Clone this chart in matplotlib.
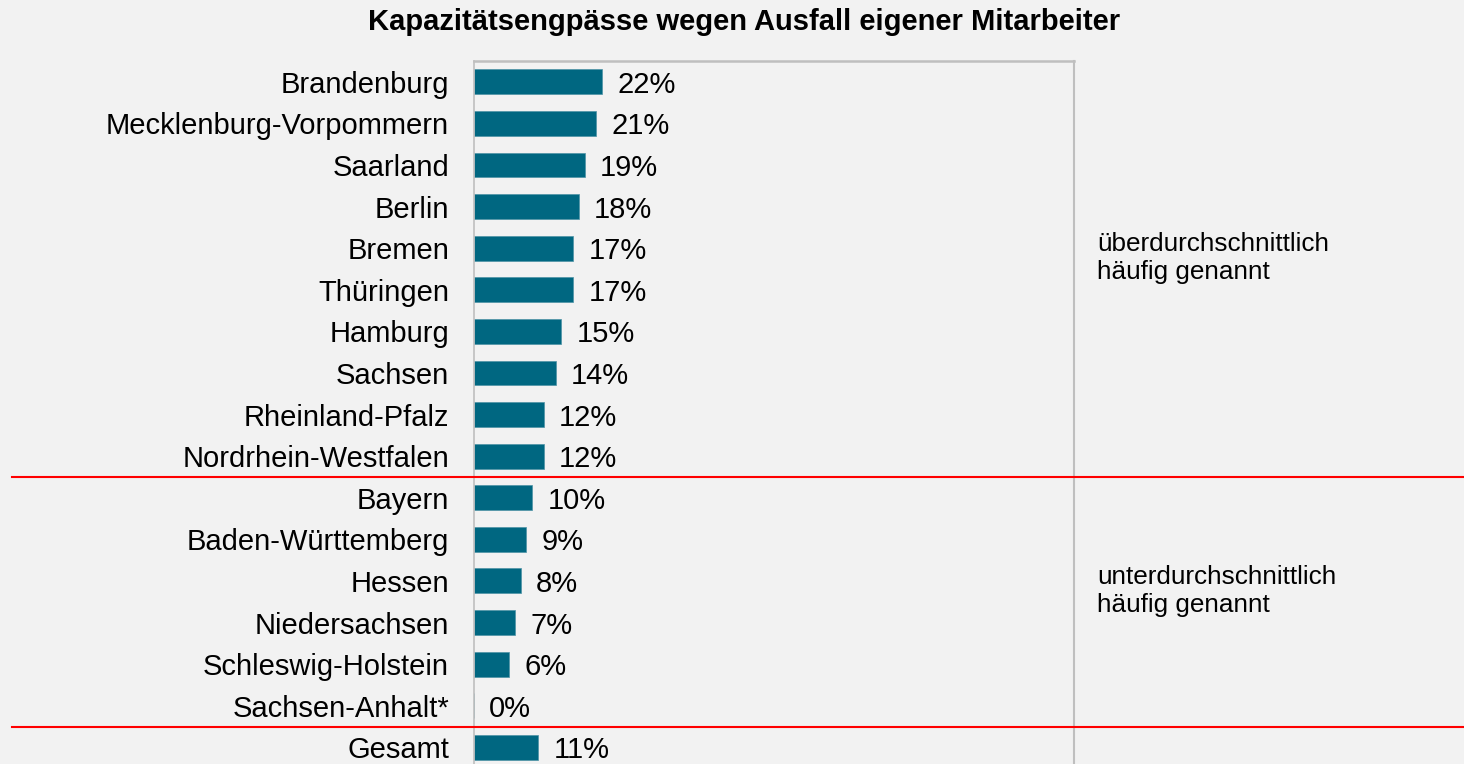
import numpy as np
import matplotlib.pyplot as plt
import matplotlib.transforms as mtransforms
from matplotlib.lines import Line2D

plt.rcParams['font.family'] = ['Liberation Sans', 'DejaVu Sans']

laender = ['Brandenburg', 'Mecklenburg-Vorpommern', 'Saarland', 'Berlin', 'Bremen',
           'Thüringen', 'Hamburg', 'Sachsen', 'Rheinland-Pfalz', 'Nordrhein-Westfalen',
           'Bayern', 'Baden-Württemberg', 'Hessen', 'Niedersachsen', 'Schleswig-Holstein',
           'Sachsen-Anhalt*', 'Gesamt']
anteile = [22, 21, 19, 18, 17, 17, 15, 14, 12, 12, 10, 9, 8, 7, 6, 0, 11]
grenzen = [9.5, 15.5]  # zwischen ueber-/unterdurchschnittlich und Gesamt

bg = '#f2f2f2'
bar_color = '#006781'
rahmen = '#bfbfbf'

fig = plt.figure(figsize=(14.64, 7.64), dpi=100, facecolor=bg)
ax = fig.add_axes([474 / 1464, 0.0, 600 / 1464, 1 - 61 / 764])
ax.set_facecolor(bg)

y = np.arange(len(laender))
ax.barh(y, anteile, height=0.6, color=bar_color, edgecolor='#4d93a6', linewidth=0.5)
for yi, v in zip(y, anteile):
    ax.annotate(f'{v}%', (v, yi), xytext=(11, 0), textcoords='offset points',
                va='center_baseline', ha='left', fontsize=21)

ax.set_xlim(0, 103)
ax.set_ylim(16.4, -0.5)
ax.set_yticks(y)
ax.set_yticklabels(laender, fontsize=21, va='center_baseline')
ax.tick_params(axis='y', length=0, pad=18)
ax.set_xticks([])
ax.spines['bottom'].set_visible(False)
for s in ['left', 'right', 'top']:
    ax.spines[s].set_color(rahmen)
ax.spines['left'].set_linewidth(1.2)
ax.spines['right'].set_linewidth(1.5)
ax.spines['top'].set_linewidth(1.8)

# rote Trennlinien ueber die ganze Breite
trans = mtransforms.blended_transform_factory(fig.transFigure, ax.transData)
for g in grenzen:
    fig.add_artist(Line2D([0.008, 1.0], [g, g], transform=trans, color='red',
                          linewidth=1.5, clip_on=False))

fig.text(0.508, 1 - 22 / 764, 'Kapazitätsengpässe wegen Ausfall eigener Mitarbeiter',
         ha='center', va='center', fontsize=21, fontweight='bold')
fig.text(1097 / 1464, 1 - 258 / 764, 'überdurchschnittlich\nhäufig genannt',
         ha='left', va='center', fontsize=18.8, linespacing=1.2)
fig.text(1097 / 1464, 1 - 591 / 764, 'unterdurchschnittlich\nhäufig genannt',
         ha='left', va='center', fontsize=18.8, linespacing=1.2)

fig.savefig('out.png', dpi=100, facecolor=bg)
